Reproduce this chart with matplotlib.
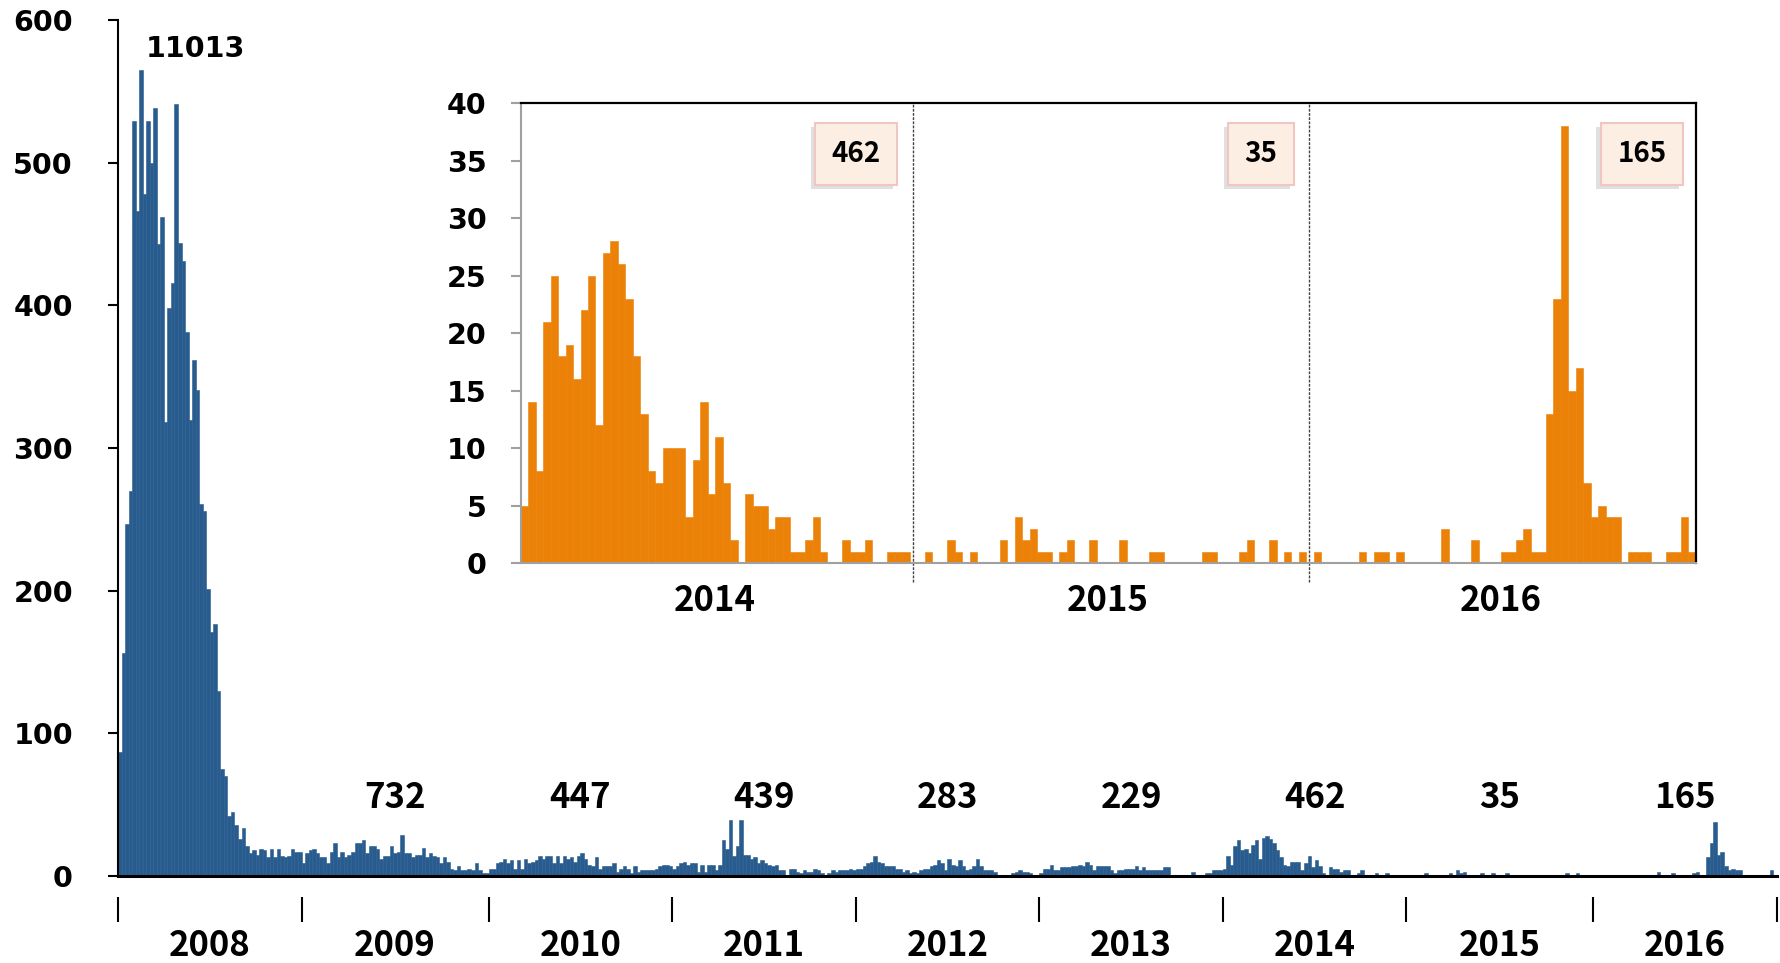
import numpy as np
import matplotlib
matplotlib.use("Agg")
import matplotlib.pyplot as plt
from matplotlib import patheffects
from matplotlib.font_manager import FontProperties
from matplotlib.transforms import blended_transform_factory

# weekly case counts, one list per year
years = ["2008", "2009", "2010", "2011", "2012", "2013", "2014", "2015", "2016"]
totals = [11013, 732, 447, 439, 283, 229, 462, 35, 165]

w2008 = [87, 156, 247, 270, 529, 466, 565, 478, 529, 500, 538, 443, 462, 318, 398, 416,
         541, 444, 431, 381, 320, 362, 341, 261, 256, 201, 171, 177, 130, 75, 70, 42,
         45, 36, 26, 34, 21, 16, 18, 15, 19, 18, 13, 19, 13, 19, 14, 13, 14, 19, 17, 17]
w2009 = [9, 16, 18, 19, 16, 13, 13, 9, 17, 23, 13, 17, 13, 15, 17, 23, 23, 25, 16, 21,
         21, 19, 12, 14, 14, 21, 16, 17, 29, 16, 16, 13, 15, 15, 20, 13, 16, 14, 13, 9,
         13, 10, 5, 4, 7, 4, 4, 5, 4, 9, 4, 2, 2]
w2010 = [5, 5, 9, 10, 12, 9, 11, 5, 11, 5, 12, 9, 10, 11, 14, 12, 14, 14, 9, 14, 9, 14,
         12, 13, 10, 14, 16, 12, 8, 7, 13, 5, 7, 7, 7, 9, 3, 5, 7, 5, 2, 7, 3, 4, 4, 4,
         4, 5, 7, 8, 8, 7]
w2011 = [5, 7, 9, 10, 8, 9, 9, 3, 8, 3, 8, 8, 4, 8, 25, 19, 39, 14, 21, 39, 15, 15, 12,
         13, 9, 11, 9, 8, 7, 8, 4, 4, 1, 5, 5, 3, 2, 4, 3, 3, 5, 4, 2, 1, 2, 4, 3, 4, 4,
         4, 5, 4]
w2012 = [5, 5, 7, 9, 10, 14, 10, 9, 7, 7, 7, 5, 5, 3, 4, 2, 3, 2, 4, 5, 5, 7, 8, 11, 9,
         4, 12, 8, 7, 11, 7, 4, 5, 7, 12, 7, 4, 4, 4, 3, 0, 1, 0, 1, 2, 3, 4, 3, 3, 2, 1, 1]
w2013 = [2, 5, 5, 8, 4, 4, 6, 6, 6, 7, 7, 8, 7, 10, 8, 4, 7, 7, 7, 7, 4, 2, 4, 4, 5, 5,
         5, 7, 4, 6, 4, 4, 4, 4, 4, 6, 6, 0, 1, 1, 1, 1, 1, 3, 1, 0, 1, 2, 2, 4, 4, 4]
w2014 = [5, 14, 8, 21, 25, 18, 19, 16, 22, 25, 12, 27, 28, 26, 23, 18, 13, 8, 7, 10, 10,
         10, 4, 9, 14, 6, 11, 7, 2, 0, 6, 5, 5, 3, 4, 4, 1, 1, 2, 4, 1, 0, 0, 2, 1, 1, 2,
         0, 0, 1, 1, 1]
w2015 = [0, 0, 1, 0, 0, 2, 1, 0, 1, 0, 0, 0, 2, 0, 4, 2, 3, 1, 1, 0, 1, 2, 0, 0, 2, 0,
         0, 0, 2, 0, 0, 0, 1, 1, 0, 0, 0, 0, 0, 1, 1, 0, 0, 0, 1, 2, 0, 0, 2, 0, 1, 0, 1]
w2016 = [0, 1, 0, 0, 0, 0, 0, 1, 0, 1, 1, 0, 1, 0, 0, 0, 0, 0, 3, 0, 0, 0, 2, 0, 0, 0,
         1, 1, 2, 3, 1, 1, 13, 23, 38, 15, 17, 7, 4, 5, 4, 4, 0, 1, 1, 1, 0, 0, 1, 1, 4, 1]

weekly = [w2008, w2009, w2010, w2011, w2012, w2013, w2014, w2015, w2016]

BLUE = "#295C8E"
ORANGE = "#EB8107"
num_font = FontProperties(family=["Noto Sans CJK JP", "DejaVu Sans"], weight="bold", size=25)
box_font = FontProperties(family=["Noto Sans CJK JP", "DejaVu Sans"], weight="bold", size=20)
tick_font = FontProperties(family="DejaVu Sans", weight="bold", size=20.5)

counts = np.concatenate(weekly)
n_weeks = [len(w) for w in weekly]
bounds = np.concatenate([[0], np.cumsum(n_weeks)]) - 0.5
centers = (bounds[:-1] + bounds[1:]) / 2

fig = plt.figure(figsize=(17.8, 9.63), dpi=100)

# main chart
ax = fig.add_axes([0.0663, 0.0903, 0.932, 0.8889])
ax.bar(np.arange(len(counts)), counts, width=1.0, color=BLUE, edgecolor=BLUE, linewidth=0.4)
ax.set_xlim(bounds[0], bounds[-1])
ax.set_ylim(0, 600)
ax.set_yticks(np.arange(0, 601, 100))
ax.set_xticks([])
for s in ["top", "right"]:
    ax.spines[s].set_visible(False)
ax.spines["left"].set_linewidth(1.5)
ax.spines["bottom"].set_linewidth(2.2)
ax.tick_params(axis="y", length=7.5, width=1.5, pad=25)
for lab in ax.get_yticklabels():
    lab.set_fontproperties(tick_font)

# year axis below the bars
sec = ax.secondary_xaxis(-0.0245)
sec.spines["bottom"].set_visible(False)
sec.set_xticks(bounds, labels=[""] * len(bounds))
sec.set_xticks(centers, labels=years, minor=True)
sec.tick_params(which="major", length=18, width=1.5, direction="out")
sec.tick_params(which="minor", length=0, pad=22)
for lab in sec.get_xticklabels(minor=True):
    lab.set_fontproperties(num_font)

# yearly totals
for i, (c, t) in enumerate(zip(centers, totals)):
    if i == 0:
        ax.text(c - 4, 580, str(t), ha="center", va="center", fontproperties=tick_font)
    else:
        ax.text(c, 55, str(t), ha="center", va="center", fontproperties=num_font)

# inset: last three years
recent = np.concatenate(weekly[6:])
in_bounds = np.concatenate([[0], np.cumsum(n_weeks[6:])]) - 0.5
in_centers = (in_bounds[:-1] + in_bounds[1:]) / 2

ins = fig.add_axes([0.2925, 0.4150, 0.6601, 0.4777])
ins.bar(np.arange(len(recent)), recent, width=1.0, color=ORANGE, edgecolor=ORANGE, linewidth=0.4)
ins.set_xlim(in_bounds[0], in_bounds[-1])
ins.set_ylim(0, 40)
ins.set_yticks(np.arange(0, 41, 5))
ins.set_xticks(in_centers, labels=years[6:])
ins.tick_params(axis="x", length=0, pad=14)
ins.tick_params(axis="y", length=7.5, width=1.5, color="#A0A0A0", pad=17)
for lab in ins.get_yticklabels():
    lab.set_fontproperties(tick_font)
for lab in ins.get_xticklabels():
    lab.set_fontproperties(num_font)
ins.spines["left"].set_color("#A0A0A0")
ins.spines["bottom"].set_color("#A0A0A0")
for s in ["left", "bottom"]:
    ins.spines[s].set_linewidth(1.5)
for s in ["top", "right"]:
    ins.spines[s].set_color("black")
    ins.spines[s].set_linewidth(1.6)

for b in in_bounds[1:-1]:
    ins.axvline(b + 0.4, ymin=-0.041, ymax=1, color="#444444", linewidth=1.0,
                linestyle=(0, (2, 1)), clip_on=False)

trans = blended_transform_factory(ins.transData, ins.transAxes)
for end, t in zip(in_bounds[1:], totals[6:]):
    txt = ins.text(end - 3.9, 0.89, str(t), transform=trans, ha="right", va="center",
                   fontproperties=box_font,
                   bbox=dict(boxstyle="square,pad=0.6", fc="#FDEEE3", ec="#F0C6C3", lw=1.5))
    txt.get_bbox_patch().set_path_effects(
        [patheffects.withSimplePatchShadow(offset=(-3, -3), shadow_rgbFace="#999999", alpha=0.3)])

fig.savefig("out.png", dpi=100)
